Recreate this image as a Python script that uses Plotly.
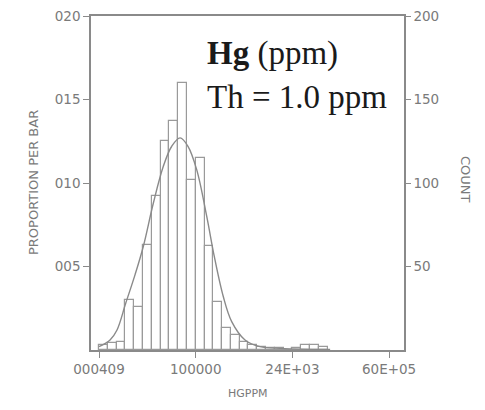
import plotly.graph_objects as go

# ---- data ----
# histogram bins: 11 bins per labelled tick interval (axis units 0..3)
bins_per_tick = 11
bar_counts = [3, 4, 5, 30, 26, 63, 92, 125, 137, 160, 102, 115, 62, 29, 13, 9,
              5, 3, 2, 1, 1, 0, 1, 3, 3, 2]
n_total = 1000

# fitted curve, read as points (axis units, counts)
curve_x = [0.00, 0.114, 0.186, 0.276, 0.372, 0.458, 0.562, 0.665, 0.752, 0.838,
           0.920, 1.010, 1.114, 1.192, 1.285, 1.372, 1.510, 1.665, 1.872, 2.08, 2.39]
curve_y = [2, 6, 12, 28, 45, 62, 88, 110, 122, 127,
           122, 108, 80, 56, 32, 17, 6, 2, 1, 0.5, 0.3]

x_tick_vals = [0, 1, 2, 3]
x_tick_text = ["000409", "100000", "24E+03", "60E+05"]
count_ticks = [50, 100, 150, 200]
prop_ticks = [0.05, 0.10, 0.15, 0.20]
prop_tick_text = ["005", "010", "015", "020"]

GRAY = "#8a8a8a"
TXT = "#7a7a7a"
FONT = "DejaVu Sans"

# page body has an 8px margin; figure is sized/placed to compensate
OFF = 8
PL, PR, PT, PB = 91, 404, 16, 350   # plot area in page pixels
PW, PH = PR - PL, PB - PT

bw = 1.0 / bins_per_tick
bar_x = [(k + 0.5) * bw for k in range(len(bar_counts))]

fig = go.Figure()
fig.add_trace(go.Bar(
    x=bar_x, y=bar_counts, width=bw,
    marker=dict(color="white", line=dict(color="#9a9a9a", width=1.2)),
    yaxis="y2", showlegend=False,
))
fig.add_trace(go.Scatter(
    x=curve_x, y=curve_y, mode="lines", line=dict(color=GRAY, width=1.4, shape="spline"),
    yaxis="y2", showlegend=False,
))
# invisible trace to anchor left proportion axis
fig.add_trace(go.Scatter(x=[0], y=[0], mode="markers", marker=dict(opacity=0),
                         yaxis="y", showlegend=False, hoverinfo="skip"))


def px(x):
    return (x - PL) / PW


def py(y):
    return (PB - y) / PH


fig.update_layout(
    width=485 - OFF, height=410 - OFF,
    margin=dict(l=PL - OFF, r=485 - PR, t=PT - OFF, b=410 - PB),
    paper_bgcolor="white", plot_bgcolor="white",
    font=dict(family=FONT, color=TXT, size=13),
    bargap=0,
    xaxis=dict(
        range=[-0.083, 3.154], tickvals=x_tick_vals, ticktext=x_tick_text,
        showline=True, linecolor=GRAY, linewidth=1.5, mirror=True, automargin=False,
        ticks="outside", ticklen=6, tickcolor=GRAY, showgrid=False, zeroline=False,
        tickfont=dict(size=13.5, color=TXT), ticklabeloverflow="allow",
    ),
    yaxis=dict(
        range=[0, 0.2], tickvals=prop_ticks, ticktext=prop_tick_text,
        showline=True, linecolor=GRAY, linewidth=1.5, automargin=False,
        ticks="outside", ticklen=6, tickcolor=GRAY, showgrid=False, zeroline=False,
        tickfont=dict(size=13.5, color=TXT), ticklabeloverflow="allow",
    ),
    yaxis2=dict(
        range=[0, 200], tickvals=count_ticks, overlaying="y", side="right",
        showline=True, linecolor=GRAY, linewidth=1.5, automargin=False,
        ticks="outside", ticklen=5, tickcolor=GRAY, showgrid=False, zeroline=False,
        tickfont=dict(size=13.5, color=TXT), ticklabeloverflow="allow",
    ),
    annotations=[
        dict(text="<b>Hg</b> (ppm)", xref="paper", yref="paper", x=px(205), y=py(53),
             xanchor="left", yanchor="middle", showarrow=False,
             font=dict(family="Liberation Serif", size=33, color="#1a1a1a")),
        dict(text="Th = 1.0 ppm", xref="paper", yref="paper", x=px(205), y=py(97),
             xanchor="left", yanchor="middle", showarrow=False,
             font=dict(family="Liberation Serif", size=33, color="#1a1a1a")),
        dict(text="PROPORTION PER BAR", xref="paper", yref="paper",
             x=px(33), y=py(183), textangle=-90,
             xanchor="center", yanchor="middle", showarrow=False,
             font=dict(size=13, color=TXT)),
        dict(text="COUNT", xref="paper", yref="paper",
             x=px(466), y=py(180), textangle=90,
             xanchor="center", yanchor="middle", showarrow=False,
             font=dict(size=13, color=TXT)),
        dict(text="HGPPM", xref="paper", yref="paper",
             x=px(248), y=py(393),
             xanchor="center", yanchor="middle", showarrow=False,
             font=dict(size=11, color=TXT)),
    ],
)

fig.write_html("out.html")
